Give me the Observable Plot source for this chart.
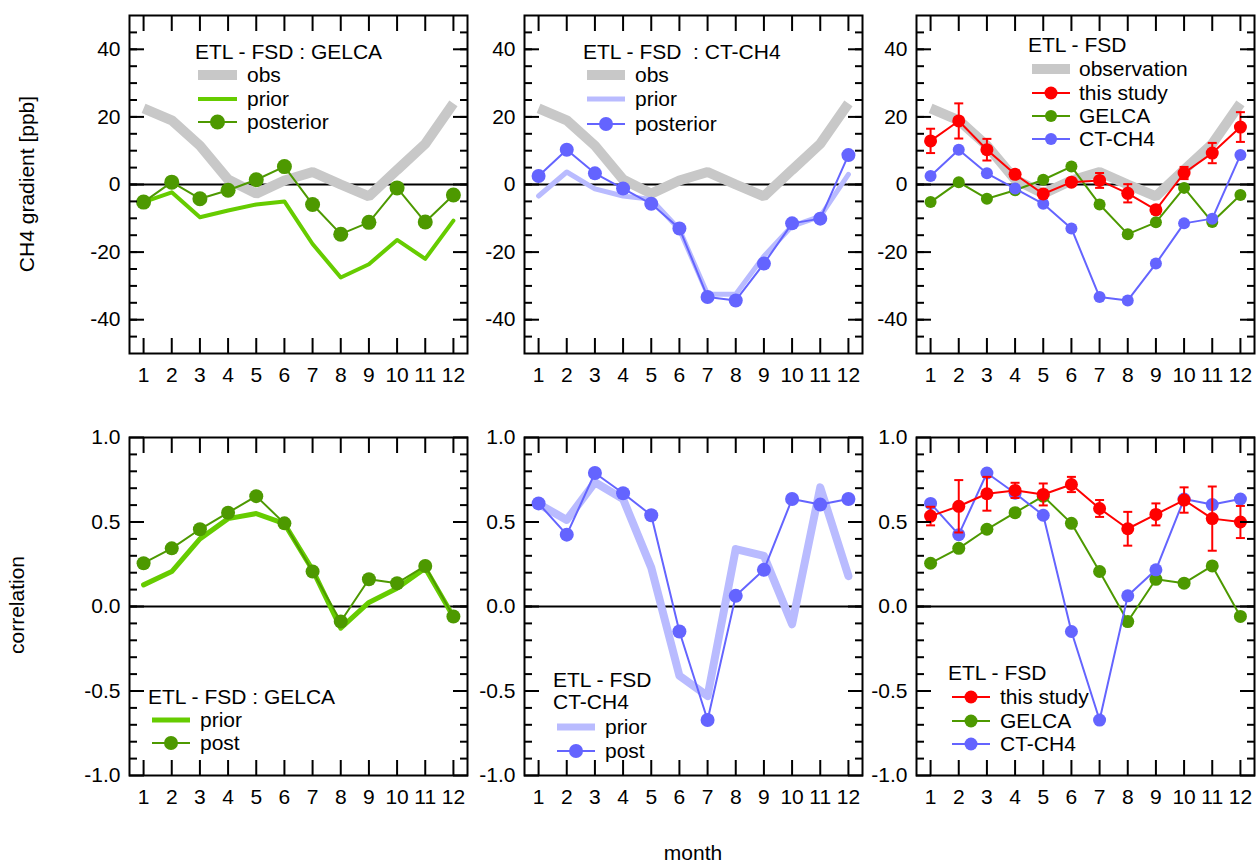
<!DOCTYPE html>
<html><head><meta charset="utf-8">
<script src="https://cdn.jsdelivr.net/npm/d3@7"></script>
<script src="https://cdn.jsdelivr.net/npm/@observablehq/plot@0.6"></script>
<style>
html,body{margin:0;padding:0;background:#fff;overflow:hidden}
#root{position:relative;width:1256px;height:863px;font-family:"Liberation Sans",Arial,sans-serif;color:#000}
.atitle{position:absolute;font-size:21px;white-space:nowrap;transform:translate(-50%,-50%)}
.rot{transform:translate(-50%,-50%) rotate(-90deg)}
svg{position:absolute}
</style></head><body><div id="root"></div><script>
// ---------- data ----------
const months = [1,2,3,4,5,6,7,8,9,10,11,12];
const gradObs        = [22.5, 19, 11.5, 1.5, -2.7, 1.2, 3.7, 0, -3.5, 4.3, 12, 24];
const gradGelcaPrior = [-5.2, -2.3, -9.7, -7.7, -5.9, -5, -17.6, -27.5, -23.6, -16.4, -22, -10.7];
const gradGelcaPost  = [-5.2, 0.7, -4.2, -1.7, 1.4, 5.3, -5.9, -14.7, -11.2, -1, -11.1, -3.1];
const gradCtPrior    = [-3.4, 3.7, -1.3, -3.4, -4.4, -13.3, -32.5, -32.5, -21.2, -12.3, -9.4, 3];
const gradCtPost     = [2.5, 10.3, 3.3, -1.2, -5.7, -13, -33.3, -34.3, -23.4, -11.5, -10.1, 8.7];
const gradThis       = [12.9, 18.8, 10.3, 3, -2.8, 0.7, 1.2, -2.6, -7.5, 3.4, 9.3, 17];
const gradThisErr    = [3.6, 5.2, 3.2, 1.2, 1.2, 1, 2.2, 2.7, 1.2, 1.8, 3, 4.4];

const corrGelcaPrior = [0.128, 0.207, 0.40, 0.52, 0.55, 0.49, 0.217, -0.128, 0.024, 0.108, 0.226, -0.06];
const corrGelcaPost  = [0.256, 0.344, 0.457, 0.555, 0.653, 0.492, 0.207, -0.089, 0.161, 0.138, 0.24, -0.059];
const corrCtPrior    = [0.607, 0.512, 0.735, 0.636, 0.23, -0.41, -0.53, 0.34, 0.30, -0.105, 0.705, 0.18];
const corrCtPost     = [0.61, 0.425, 0.79, 0.67, 0.54, -0.148, -0.672, 0.063, 0.217, 0.636, 0.603, 0.636];
const corrThis       = [0.535, 0.593, 0.667, 0.687, 0.663, 0.722, 0.58, 0.46, 0.545, 0.63, 0.52, 0.5];
const corrThisErr    = [0.055, 0.155, 0.1, 0.045, 0.065, 0.045, 0.05, 0.1, 0.065, 0.075, 0.19, 0.095];

const gradMajorTicks = [-40, -20, 0, 20, 40];
const gradMinorTicks = d3.range(-45, 50, 5);
const corrMajorTicks = [-1, -0.5, 0, 0.5, 1];
const corrMinorTicks = d3.range(-9, 10).map(d => d / 10);

const C = {
  gray: "#c8c8c8", lime: "#66cc00", green: "#4d9900",
  lightblue: "#b9bbff", blue: "#6464ff", red: "#ff0000"
};
const FONT = "'Liberation Sans', Arial, sans-serif";
const FS = 21;

const rows = (vals, errs) => months.map((m, i) => ({month: m, v: vals[i], e: errs ? errs[i] : 0}));

// ---------- helpers ----------
const capSymbol = {draw(ctx, size) { const r = Math.sqrt(size / Math.PI); ctx.moveTo(-r, 0); ctx.lineTo(r, 0); }};

function lineMarks(vals, color, width, r, extra = {}) {
  const data = rows(vals);
  const m = [Plot.line(data, {x: "month", y: "v", stroke: color, strokeWidth: width, strokeLinejoin: extra.join || "round", strokeLinecap: extra.cap || "round"})];
  if (r) m.push(Plot.dot(data, {x: "month", y: "v", r, fill: color}));
  return m;
}
function errMarks(vals, errs, color, r) {
  const data = rows(vals, errs);
  return [
    Plot.ruleX(data, {x: "month", y1: d => d.v - d.e, y2: d => d.v + d.e, stroke: color, strokeWidth: 2}),
    Plot.dot(data, {x: "month", y: d => d.v + d.e, symbol: capSymbol, r: 4.5, stroke: color, strokeWidth: 2, fill: "none"}),
    Plot.dot(data, {x: "month", y: d => d.v - d.e, symbol: capSymbol, r: 4.5, stroke: color, strokeWidth: 2, fill: "none"}),
    Plot.line(data, {x: "month", y: "v", stroke: color, strokeWidth: 2}),
    Plot.dot(data, {x: "month", y: "v", r, fill: color})
  ];
}

const ML = 60, MR = 4, MT = 16, MB = 44, FW = 338, FH = 338;
const root = document.getElementById("root");

function panel({left, top, yDomain, major, minor, fmt, marks, legend}) {
  const noText = () => "";
  const svg = Plot.plot({
    width: ML + FW + MR, height: MT + FH + MB,
    marginLeft: ML, marginRight: MR, marginTop: MT, marginBottom: MB,
    style: {fontFamily: FONT, fontSize: FS + "px", background: "transparent", color: "#000", overflow: "visible"},
    x: {domain: [0.5, 12.5], axis: null},
    y: {domain: yDomain, axis: null},
    marks: [
      Plot.ruleY([0], {stroke: "#000", strokeWidth: 2}),
      ...marks,
      Plot.frame({stroke: "#000", strokeWidth: 2}),
      Plot.axisY(minor, {anchor: "left", tickSize: -8, tickFormat: noText, label: null, strokeWidth: 2}),
      Plot.axisY(minor, {anchor: "right", tickSize: -8, tickFormat: noText, label: null, strokeWidth: 2}),
      Plot.axisY(major, {anchor: "left", tickSize: -15, tickFormat: noText, label: null, strokeWidth: 2}),
      Plot.axisY(major, {anchor: "right", tickSize: -15, tickFormat: noText, label: null, strokeWidth: 2}),
      Plot.axisX(months, {anchor: "bottom", tickSize: -15, tickFormat: noText, label: null, strokeWidth: 2}),
      Plot.axisX(months, {anchor: "top", tickSize: -15, tickFormat: noText, label: null, strokeWidth: 2}),
      Plot.axisY(major, {anchor: "left", tickSize: 0, tickPadding: 9, tickFormat: fmt, label: null, fontSize: FS}),
      Plot.axisX(months, {anchor: "bottom", tickSize: 0, tickPadding: 14, tickFormat: d => String(d), label: null, fontSize: FS})
    ]
  });
  svg.style.left = (left - ML) + "px";
  svg.style.top = (top - MT) + "px";
  root.appendChild(svg);
  // legend (frame-relative pixel layout)
  const g = d3.select(svg).append("g").attr("transform", `translate(${ML},${MT})`)
    .attr("text-anchor", "start")
    .style("font-family", FONT).style("font-size", FS + "px");
  legend.titles.forEach(t => g.append("text").attr("x", t.x).attr("y", t.y).attr("dy", "0.35em")
    .attr("text-anchor", "start").style("white-space", "pre").attr("fill", "#000").text(t.text));
  legend.items.forEach(it => {
    g.append("line").attr("x1", legend.x0).attr("x2", legend.x1).attr("y1", it.y).attr("y2", it.y)
      .attr("stroke", it.color).attr("stroke-width", it.w);
    if (it.r) g.append("circle").attr("cx", (legend.x0 + legend.x1) / 2).attr("cy", it.y).attr("r", it.r).attr("fill", it.color);
    g.append("text").attr("x", legend.tx).attr("y", it.y).attr("dy", "0.35em").attr("text-anchor", "start")
      .attr("fill", "#000").text(it.label);
  });
}

const gradFmt = d => String(d);
const corrFmt = d => d.toFixed(1);
const gradDom = [-50, 50], corrDom = [-1, 1];
const cols = [129, 524, 916];
const topRow = 15, botRow = 437;

// ---------- top row ----------
panel({left: cols[0], top: topRow, yDomain: gradDom, major: gradMajorTicks, minor: gradMinorTicks, fmt: gradFmt,
  marks: [
    ...lineMarks(gradObs, C.gray, 10, 0, {join: "miter", cap: "butt"}),
    ...lineMarks(gradGelcaPrior, C.lime, 4, 0),
    ...lineMarks(gradGelcaPost, C.green, 2, 7.5)
  ],
  legend: {titles: [{x: 66, y: 37, text: "ETL - FSD : GELCA"}], x0: 69, x1: 108, tx: 118, items: [
    {y: 60, color: C.gray, w: 10, label: "obs"},
    {y: 84, color: C.lime, w: 4, label: "prior"},
    {y: 107, color: C.green, w: 2, r: 7.5, label: "posterior"}]}
});
panel({left: cols[1], top: topRow, yDomain: gradDom, major: gradMajorTicks, minor: gradMinorTicks, fmt: gradFmt,
  marks: [
    ...lineMarks(gradObs, C.gray, 10, 0, {join: "miter", cap: "butt"}),
    ...lineMarks(gradCtPrior, C.lightblue, 5, 0),
    ...lineMarks(gradCtPost, C.blue, 2, 7)
  ],
  legend: {titles: [{x: 59, y: 37, text: "ETL - FSD  : CT-CH4"}], x0: 63, x1: 101, tx: 111, items: [
    {y: 60, color: C.gray, w: 10, label: "obs"},
    {y: 84, color: C.lightblue, w: 5, label: "prior"},
    {y: 109, color: C.blue, w: 2, r: 7, label: "posterior"}]}
});
panel({left: cols[2], top: topRow, yDomain: gradDom, major: gradMajorTicks, minor: gradMinorTicks, fmt: gradFmt,
  marks: [
    ...lineMarks(gradObs, C.gray, 10, 0, {join: "miter", cap: "butt"}),
    ...lineMarks(gradGelcaPost, C.green, 2, 6),
    ...lineMarks(gradCtPost, C.blue, 2, 6),
    ...errMarks(gradThis, gradThisErr, C.red, 6.5)
  ],
  legend: {titles: [{x: 112, y: 30, text: "ETL - FSD"}], x0: 116, x1: 154, tx: 163, items: [
    {y: 54, color: C.gray, w: 10, label: "observation"},
    {y: 78, color: C.red, w: 2, r: 6.5, label: "this study"},
    {y: 101, color: C.green, w: 2, r: 6, label: "GELCA"},
    {y: 124, color: C.blue, w: 2, r: 6, label: "CT-CH4"}]}
});

// ---------- bottom row ----------
panel({left: cols[0], top: botRow, yDomain: corrDom, major: corrMajorTicks, minor: corrMinorTicks, fmt: corrFmt,
  marks: [
    ...lineMarks(corrGelcaPrior, C.lime, 5, 0),
    ...lineMarks(corrGelcaPost, C.green, 2, 7)
  ],
  legend: {titles: [{x: 19, y: 260, text: "ETL - FSD : GELCA"}], x0: 23, x1: 61, tx: 71, items: [
    {y: 283, color: C.lime, w: 5, label: "prior"},
    {y: 306, color: C.green, w: 2, r: 7, label: "post"}]}
});
panel({left: cols[1], top: botRow, yDomain: corrDom, major: corrMajorTicks, minor: corrMinorTicks, fmt: corrFmt,
  marks: [
    ...lineMarks(corrCtPrior, C.lightblue, 8, 0),
    ...lineMarks(corrCtPost, C.blue, 2, 7)
  ],
  legend: {titles: [{x: 29, y: 243, text: "ETL - FSD"}, {x: 29, y: 265, text: "CT-CH4"}], x0: 33, x1: 71, tx: 81, items: [
    {y: 290, color: C.lightblue, w: 7, label: "prior"},
    {y: 314, color: C.blue, w: 2, r: 7, label: "post"}]}
});
panel({left: cols[2], top: botRow, yDomain: corrDom, major: corrMajorTicks, minor: corrMinorTicks, fmt: corrFmt,
  marks: [
    ...lineMarks(corrGelcaPost, C.green, 2, 6.5),
    ...lineMarks(corrCtPost, C.blue, 2, 6.5),
    ...errMarks(corrThis, corrThisErr, C.red, 6.5)
  ],
  legend: {titles: [{x: 32, y: 236, text: "ETL - FSD"}], x0: 36, x1: 74, tx: 84, items: [
    {y: 260, color: C.red, w: 2, r: 6.5, label: "this study"},
    {y: 284, color: C.green, w: 2, r: 6.5, label: "GELCA"},
    {y: 307, color: C.blue, w: 2, r: 6.5, label: "CT-CH4"}]}
});

// ---------- axis titles ----------
function title(text, x, y, rot) {
  const d = document.createElement("div");
  d.className = "atitle" + (rot ? " rot" : "");
  d.style.left = x + "px"; d.style.top = y + "px";
  d.textContent = text;
  root.appendChild(d);
}
title("CH4 gradient [ppb]", 27, 184, true);
title("correlation", 17, 605, true);
title("month", 693, 853, false);
</script></body></html>
